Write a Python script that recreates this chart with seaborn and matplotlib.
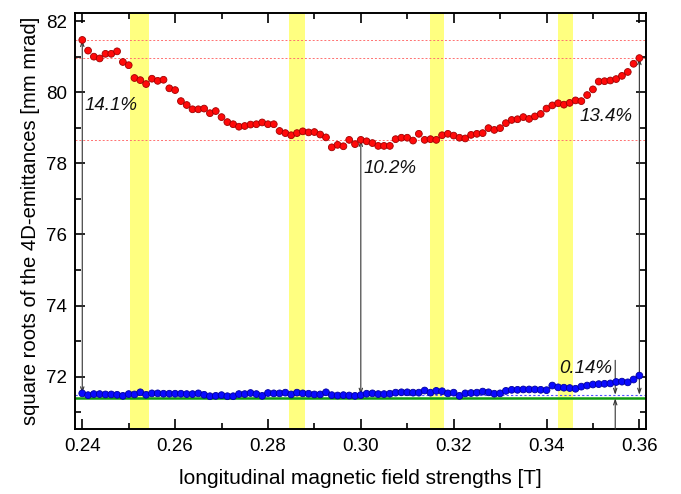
import numpy as np
import pandas as pd
import matplotlib
matplotlib.use("Agg")
import matplotlib.pyplot as plt
import seaborn as sns
from matplotlib.ticker import MultipleLocator

# ---------------- data ----------------
field = np.round(np.linspace(0.24, 0.36, 97), 5)

red_emit = [81.47, 81.17, 81.00, 80.95, 81.08, 81.08, 81.15, 80.85, 80.76, 80.40,
            80.34, 80.23, 80.38, 80.32, 80.35, 80.11, 80.06, 79.75, 79.64, 79.52,
            79.52, 79.54, 79.41, 79.47, 79.30, 79.16, 79.10, 79.03, 79.05, 79.09,
            79.10, 79.15, 79.10, 79.10, 78.91, 78.85, 78.79, 78.85, 78.90, 78.87,
            78.88, 78.81, 78.73, 78.45, 78.52, 78.48, 78.66, 78.54, 78.66, 78.62,
            78.57, 78.49, 78.49, 78.49, 78.68, 78.72, 78.72, 78.64, 78.83, 78.66,
            78.68, 78.66, 78.79, 78.83, 78.78, 78.72, 78.70, 78.80, 78.83, 78.85,
            78.99, 78.94, 78.99, 79.13, 79.22, 79.24, 79.30, 79.25, 79.32, 79.39,
            79.54, 79.63, 79.69, 79.65, 79.70, 79.77, 79.75, 79.92, 80.08, 80.30,
            80.31, 80.33, 80.37, 80.46, 80.57, 80.80, 80.96]

blue_emit = [71.53, 71.48, 71.51, 71.51, 71.50, 71.50, 71.49, 71.46, 71.51, 71.50,
             71.56, 71.49, 71.53, 71.53, 71.52, 71.52, 71.52, 71.52, 71.51, 71.51,
             71.53, 71.49, 71.45, 71.46, 71.48, 71.45, 71.45, 71.51, 71.51, 71.54,
             71.51, 71.46, 71.54, 71.53, 71.53, 71.55, 71.50, 71.55, 71.53, 71.52,
             71.50, 71.50, 71.56, 71.48, 71.47, 71.48, 71.47, 71.46, 71.48, 71.52,
             71.53, 71.51, 71.51, 71.52, 71.55, 71.56, 71.56, 71.55, 71.55, 71.61,
             71.55, 71.60, 71.59, 71.53, 71.55, 71.46, 71.53, 71.54, 71.55, 71.58,
             71.56, 71.52, 71.53, 71.60, 71.63, 71.63, 71.64, 71.64, 71.64, 71.63,
             71.62, 71.75, 71.70, 71.69, 71.68, 71.66, 71.72, 71.75, 71.78, 71.79,
             71.80, 71.81, 71.85, 71.86, 71.84, 71.92, 72.03]

yellow_bands = [(0.2503, 0.2544), (0.2845, 0.2880), (0.3148, 0.3179), (0.3425, 0.3456)]
red_ref_levels = [81.47, 80.96, 78.66]
blue_ref_level = 71.49
green_level = 71.39

# arrows: (x, bottom value, top value)
range_arrows = [(0.24, 71.53, 81.47), (0.30, 71.49, 78.66), (0.36, 71.49, 80.96)]
pct_labels = [("14.1%", 0.2404, 79.62), ("10.2%", 0.3005, 77.86),
              ("13.4%", 0.3472, 79.33), ("0.14%", 0.3427, 72.24)]
small_gap_x = 0.3548

df = pd.DataFrame({"B": list(field) * 2,
                   "emit": red_emit + blue_emit,
                   "series": ["red"] * len(red_emit) + ["blue"] * len(blue_emit)})

# ---------------- style ----------------
sns.set_style("ticks")
plt.rcParams["font.family"] = ["Liberation Sans", "DejaVu Sans"]
plt.rcParams["text.color"] = "black"
plt.rcParams["axes.labelcolor"] = "black"
plt.rcParams["xtick.color"] = "black"
plt.rcParams["ytick.color"] = "black"

fig = plt.figure(figsize=(6.81, 4.94), dpi=100)
ax = fig.add_axes([0.1101, 0.1310, 0.8381, 0.8421])

for x0, x1 in yellow_bands:
    ax.axvspan(x0, x1, color="#ffff80", lw=0, zorder=0)

for lv in red_ref_levels:
    ax.axhline(lv, color="#ff7070", lw=0.7, ls=(0, (2, 2)), zorder=1)
ax.axhline(blue_ref_level, color="#5050ff", lw=0.8, ls=(0, (2, 2)), zorder=1)
ax.axhline(green_level, color="#109a10", lw=1.8, zorder=2)

arrow_kw = dict(arrowstyle="<->,head_length=0.35,head_width=0.12", color="#333333", lw=0.8,
                shrinkA=0, shrinkB=0)
for x, lo, hi in range_arrows:
    ax.annotate("", xy=(x, hi), xytext=(x, lo), arrowprops=arrow_kw, zorder=3)

single_kw = dict(arrowstyle="->,head_length=0.35,head_width=0.12", color="#333333", lw=0.8,
                 shrinkA=0, shrinkB=0)
ax.annotate("", xy=(small_gap_x, blue_ref_level), xytext=(small_gap_x, 72.46),
            arrowprops=single_kw, zorder=3)
ax.annotate("", xy=(small_gap_x, green_level), xytext=(small_gap_x, 70.52),
            arrowprops=single_kw, zorder=3)

sns.scatterplot(data=df, x="B", y="emit", hue="series",
                palette={"red": "#ff0a0a", "blue": "#0a0aff"},
                s=24, linewidth=0.6, edgecolor=None, legend=False, ax=ax, zorder=4)
pts = ax.collections[-1]
ecs = ["#a00000"] * len(red_emit) + ["#0000a0"] * len(blue_emit)
pts.set_edgecolors(ecs)

for txt, x, y in pct_labels:
    ax.text(x, y, txt, fontsize=13.5, style="italic", ha="left", va="center", color="#111111")

ax.set_xlim(0.23843, 0.36137)
ax.set_ylim(70.52, 82.22)
ax.xaxis.set_major_locator(MultipleLocator(0.02))
ax.xaxis.set_minor_locator(MultipleLocator(0.01))
ax.yaxis.set_major_locator(MultipleLocator(2))
ax.yaxis.set_minor_locator(MultipleLocator(1))
ax.xaxis.set_major_formatter(matplotlib.ticker.FormatStrFormatter("%.2f"))
ax.tick_params(which="both", direction="in", top=True, right=True, width=1.2,
               color="black", labelcolor="black")
ax.tick_params(which="major", length=7, labelsize=13.5, pad=6)
ax.tick_params(which="minor", length=4)
for sp in ax.spines.values():
    sp.set_linewidth(1.4)
    sp.set_color("black")

ax.set_xlabel("longitudinal magnetic field strengths [T]", fontsize=15, labelpad=10, color="black")
ax.set_ylabel("square roots of the 4D-emittances [mm mrad]", fontsize=14.6, labelpad=4, color="black")

fig.savefig("out.png", dpi=100, facecolor="white")
